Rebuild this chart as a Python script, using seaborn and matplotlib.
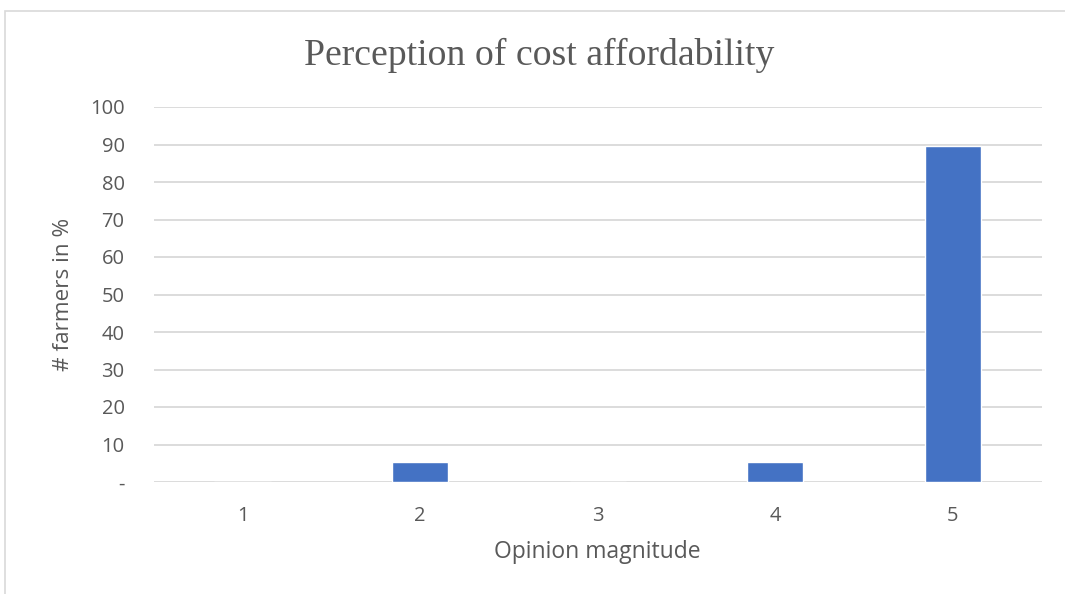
import matplotlib
matplotlib.use("Agg")
import matplotlib.pyplot as plt
from matplotlib.patches import Rectangle
import seaborn as sns
import pandas as pd

# Survey responses: share of farmers per opinion level
opinion_levels = ["1", "2", "3", "4", "5"]
farmers_pct = [0.0, 5.26, 0.0, 5.26, 89.47]
y_ticks = [0, 10, 20, 30, 40, 50, 60, 70, 80, 90, 100]
y_tick_labels = ["-", "10", "20", "30", "40", "50", "60", "70", "80", "90", "100"]

df = pd.DataFrame({"opinion": opinion_levels, "pct": farmers_pct})

sns.set_theme(style="white")
plt.rcParams["font.family"] = ["Open Sans", "DejaVu Sans"]

text_gray = "#595959"
grid_gray = "#d9d9d9"

fig = plt.figure(figsize=(10.65, 5.94), dpi=100)
ax = fig.add_axes([153.75 / 1065, 1 - 482 / 594, 888 / 1065, 375 / 594])

sns.barplot(data=df, x="opinion", y="pct", color="#4472C4", width=0.316,
            saturation=1, ax=ax, zorder=3)

ax.set_ylim(0, 100)
ax.set_xlim(-0.5, 4.5)
ax.set_yticks(y_ticks)
ax.set_yticklabels(y_tick_labels)
ax.yaxis.grid(True, color=grid_gray, linewidth=1.3, zorder=0)
ax.set_axisbelow(True)
for s in ax.spines.values():
    s.set_visible(False)
ax.tick_params(axis="both", length=0, labelsize=14.5, colors=text_gray)
ax.tick_params(axis="y", pad=21)
ax.tick_params(axis="x", pad=17)

ax.set_xlabel("Opinion magnitude", fontsize=16.5, color=text_gray, va="center")
ax.set_ylabel("# farmers in %", fontsize=16.2, color=text_gray, va="center")
ax.xaxis.set_label_coords(0.5, -0.187)
ax.yaxis.set_label_coords(-0.102, 0.5)

fig.text(539 / 1065, 1 - 55 / 594, "Perception of cost affordability",
         ha="center", va="center", fontsize=27.2, color=text_gray,
         family="Liberation Serif")

# Chart area frame
fig.patches.append(Rectangle((5 / 1065, -0.5), 1.2, 1.5 - 11 / 594,
                             transform=fig.transFigure, fill=False,
                             edgecolor=grid_gray, linewidth=1.2))

fig.savefig("out.png", dpi=100, facecolor="white")
